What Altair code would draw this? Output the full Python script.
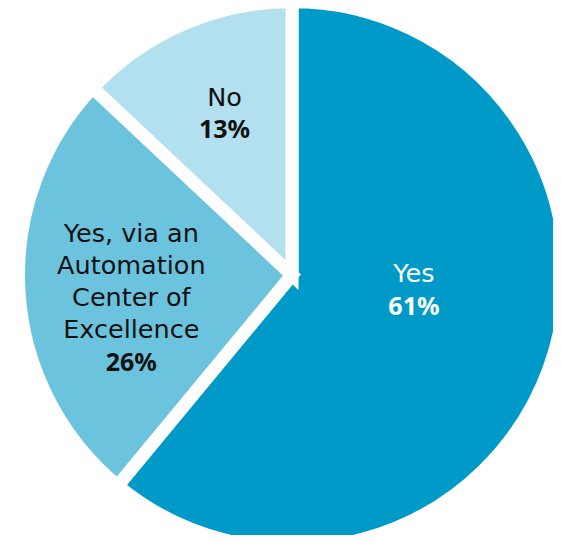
import altair as alt
import pandas as pd

categories = ["Yes", "Yes, via an Automation Center of Excellence", "No"]
name_lines = ["Yes", "Yes, via an\nAutomation\nCenter of\nExcellence", "No"]
values = [61, 26, 13]
pct_labels = ["61%", "26%", "13%"]
colors = ["#009ac8", "#6cc3de", "#b3e0ef"]
text_colors = ["#ffffff", "#111111", "#111111"]

df = pd.DataFrame({
    "category": categories,
    "name": name_lines,
    "value": values,
    "pct": pct_labels,
    "order": [0, 1, 2],
})

base = alt.Chart(df).encode(
    theta=alt.Theta("value:Q", stack=True),
    order=alt.Order("order:Q"),
)

pie = base.mark_arc(outerRadius=273.5, stroke="white", strokeWidth=13).encode(
    color=alt.Color("category:N", scale=alt.Scale(domain=categories, range=colors), legend=None)
)

NAME_FONT = "DejaVu Sans"
PCT_FONT = "Noto Sans"
# per-slice label offsets (radius, dx, name dy, pct dy)
label_style = {
    "Yes": (120, 9, -42, -9),
    "Yes, via an Automation Center of Excellence": (166, 5, -51, 78),
    "No": (175, 2, -16, 16),
}

layers = [pie]
for cat, tc in zip(categories, text_colors):
    r, dx, dyn, dyp = label_style[cat]
    layers.append(
        base.mark_text(radius=r, dx=dx, dy=dyn, fontSize=25.5, font=NAME_FONT,
                       color=tc, lineBreak="\n", lineHeight=32, align="center", baseline="middle")
        .encode(text=alt.condition(alt.datum.category == cat, "name:N", alt.value("")))
    )
    layers.append(
        base.mark_text(radius=r, dx=dx, dy=dyp, fontSize=25, font=PCT_FONT, fontWeight="bold",
                       color=tc, align="center", baseline="middle")
        .encode(text=alt.condition(alt.datum.category == cat, "pct:N", alt.value("")))
    )

chart = alt.layer(*layers).properties(
    width=522, height=520,
    padding={"left": 23, "right": 0, "top": 7, "bottom": 0},
    autosize=alt.AutoSizeParams(type="none"),
).configure_view(stroke=None)

chart.save("out.html", embed_options={"renderer": "svg", "actions": False})
